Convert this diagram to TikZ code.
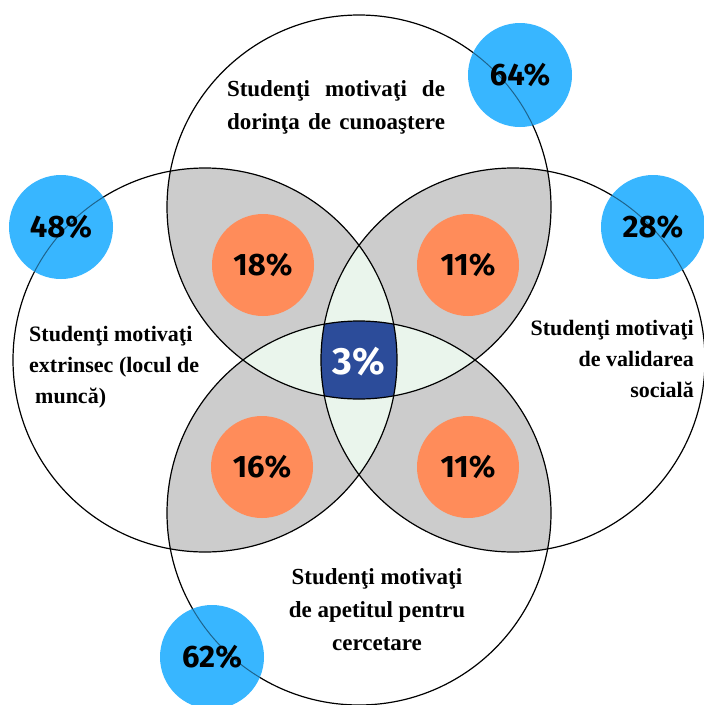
\documentclass[tikz,border=0pt]{standalone}
\usepackage{fontspec}
\setmainfont{Liberation Serif}
\newfontfamily\pctfont{Fira Sans}
\definecolor{diskblue}{HTML}{38B6FF}
\definecolor{diskorange}{HTML}{FF8C5A}
\definecolor{lensgray}{HTML}{CCCCCC}
\definecolor{lensgreen}{HTML}{EAF5EC}
\definecolor{coreblue}{HTML}{2C4C9A}
\tikzset{
  ring/.style={draw=black, line width=1.2pt},
  pcttext/.style={inner sep=0pt, font=\pctfont\bfseries\fontsize{31}{31}\selectfont},
  orangedisk/.style={circle, minimum size=102pt, inner sep=0pt, fill=diskorange,
     font=\pctfont\bfseries\fontsize{31}{31}\selectfont},
  coretext/.style={text=white, inner sep=0pt, font=\pctfont\bfseries\fontsize{38}{38}\selectfont},
  labeltext/.style={inner sep=0pt, font=\bfseries\fontsize{22}{31}\selectfont},
  labelbig/.style={inner sep=0pt, font=\bfseries\fontsize{23}{33}\selectfont}
}
\begin{document}
\begin{tikzpicture}[x=1pt,y=-1pt]
\useasboundingbox (0,0) rectangle (704,705);
\fill[white] (0,0) rectangle (704,705);
\def\rad{192pt}
\def\drad{52pt}
\coordinate (T) at (359,207);
\coordinate (L) at (205,360);
\coordinate (R) at (513,360);
\coordinate (B) at (359,513);
\coordinate (d64) at (520,75);
\coordinate (d48) at (61,227);
\coordinate (d28) at (653,227);
\coordinate (d62) at (212,657);
% gray pairwise overlaps
\begin{scope}
  \clip (T) circle[radius=\rad];
  \fill[lensgray] (L) circle[radius=\rad];
  \fill[lensgray] (R) circle[radius=\rad];
\end{scope}
\begin{scope}
  \clip (B) circle[radius=\rad];
  \fill[lensgray] (L) circle[radius=\rad];
  \fill[lensgray] (R) circle[radius=\rad];
\end{scope}
% green lenses
\begin{scope}
  \clip (T) circle[radius=\rad];
  \fill[lensgreen] (B) circle[radius=\rad];
\end{scope}
\begin{scope}
  \clip (L) circle[radius=\rad];
  \fill[lensgreen] (R) circle[radius=\rad];
\end{scope}
% core
\begin{scope}
  \clip (T) circle[radius=\rad];
  \clip (B) circle[radius=\rad];
  \clip (L) circle[radius=\rad];
  \fill[coreblue] (R) circle[radius=\rad];
\end{scope}
% outlines
\draw[ring] (T) circle[radius=\rad];
\draw[ring] (L) circle[radius=\rad];
\draw[ring] (R) circle[radius=\rad];
\draw[ring] (B) circle[radius=\rad];
% orange disks
\node[orangedisk] (p18) at (263,265) {18\%};
\node[orangedisk] (p11a) at (468,265) {11\%};
\node[orangedisk] (p16) at (262,467) {16\%};
\node[orangedisk] (p11b) at (468,467) {11\%};
% core text
\node[coretext] (p3) at (359,362) {3\%};
% blue disks
\fill[diskblue] (d64) circle[radius=\drad] (d48) circle[radius=\drad]
  (d28) circle[radius=\drad] (d62) circle[radius=\drad];
\begin{scope}
  \clip (d64) circle[radius=\drad] (d48) circle[radius=\drad]
    (d28) circle[radius=\drad] (d62) circle[radius=\drad];
  \draw[ring, line width=1pt, draw opacity=0.45] (T) circle[radius=\rad];
  \draw[ring, line width=1pt, draw opacity=0.45] (L) circle[radius=\rad];
  \draw[ring, line width=1pt, draw opacity=0.45] (R) circle[radius=\rad];
  \draw[ring, line width=1pt, draw opacity=0.45] (B) circle[radius=\rad];
\end{scope}
\node[pcttext] (p64) at (d64) {64\%};
\node[pcttext] (p48) at (d48) {48\%};
\node[pcttext] (p28) at (d28) {28\%};
\node[pcttext] (p62) at (d62) {62\%};
% labels
\node[labelbig, align=left] (lblT) at (336,107)
  {\makebox[218pt][s]{Studenţi motivaţi de}\\\makebox[218pt][s]{dorinţa de cunoaştere}};
\node[labeltext, align=left, anchor=west] (lblL) at (29,367)
  {Studenţi motivaţi\\extrinsec (locul de\\\hspace*{6pt}muncă)};
\node[labeltext, align=right, anchor=east] (lblR) at (694,359)
  {Studenţi motivaţi\\de validarea\\socială};
\node[labelbig, align=center] (lblB) at (377,610)
  {Studenţi motivaţi\\de apetitul pentru\\cercetare};
\end{tikzpicture}
\end{document}
